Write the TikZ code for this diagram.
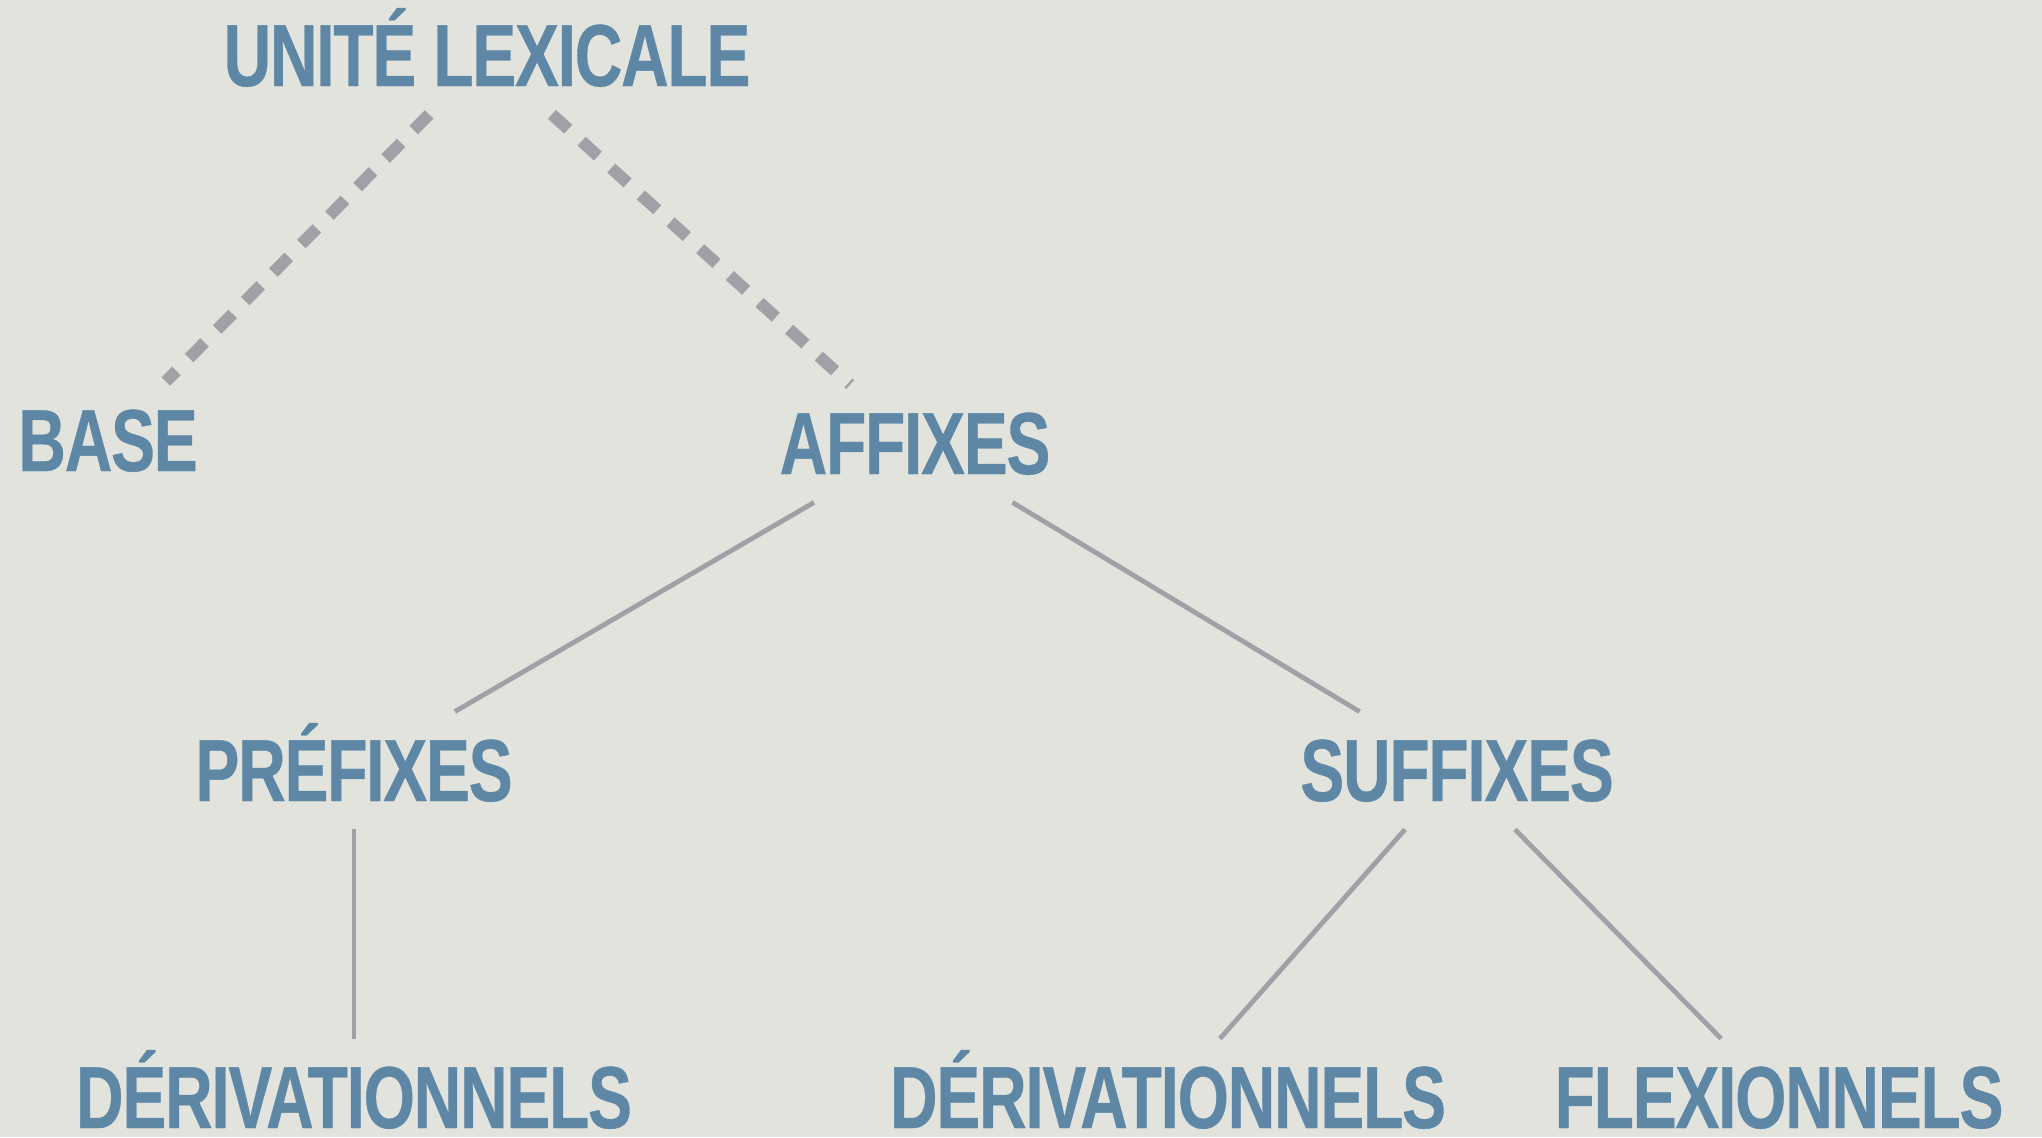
\documentclass[tikz,border=0pt]{standalone}
\usepackage{fontspec}
\usepackage{graphicx}
\setmainfont{Liberation Sans}
\newfontfamily\treefont[LetterSpace=-2,FakeBold=0.5]{Liberation Sans Bold}
\newcommand\narrowtext[1]{\scalebox{0.75}[1]{#1}}
\usetikzlibrary{calc}

\definecolor{paper}{HTML}{E1E3DC}
\definecolor{lexblue}{HTML}{5E87A6}
\definecolor{linegray}{HTML}{A0A0A6}

\tikzset{
  word/.style={anchor=base, text=lexblue, inner xsep=4pt, inner ysep=14pt,
    text height=30.5pt, text depth=0pt,
    font=\treefont\fontsize{44}{44}\selectfont},
  link/.style={linegray, line width=2.4pt},
  dashlink/.style={linegray, line width=6pt, dash pattern=on 11pt off 9pt}
}

\begin{document}
\begin{tikzpicture}[x=0.5pt, y=-0.5pt]
\fill[paper] (0,0) rectangle (2042,1137);
\useasboundingbox (0,0) rectangle (2042,1137);
% tree levels
\node[word] (unite)   at (487,86)   {\narrowtext{UNITÉ LEXICALE}};
\node[word] (base)    at (108,471)  {\narrowtext{BASE}};
\node[word] (affixes) at (915,474)  {\narrowtext{AFFIXES}};
\node[word] (prefixes) at (354,801) {\narrowtext{PRÉFIXES}};
\node[word] (suffixes) at (1457,801) {\narrowtext{SUFFIXES}};
\node[word] (derivp)  at (354,1128) {\narrowtext{DÉRIVATIONNELS}};
\node[word] (derivs)  at (1168,1128) {\narrowtext{DÉRIVATIONNELS}};
\node[word] (flexs)   at (1779,1128) {\narrowtext{FLEXIONNELS}};
% branches
\draw[dashlink] (unite) -- (base);
\draw[dashlink] (unite) -- (affixes);
\draw[link] (affixes) -- (prefixes);
\draw[link] (affixes) -- (suffixes);
\draw[link] (prefixes) -- (derivp);
\draw[link] (suffixes) -- (derivs);
\draw[link] (suffixes) -- (flexs);
\end{tikzpicture}
\end{document}
